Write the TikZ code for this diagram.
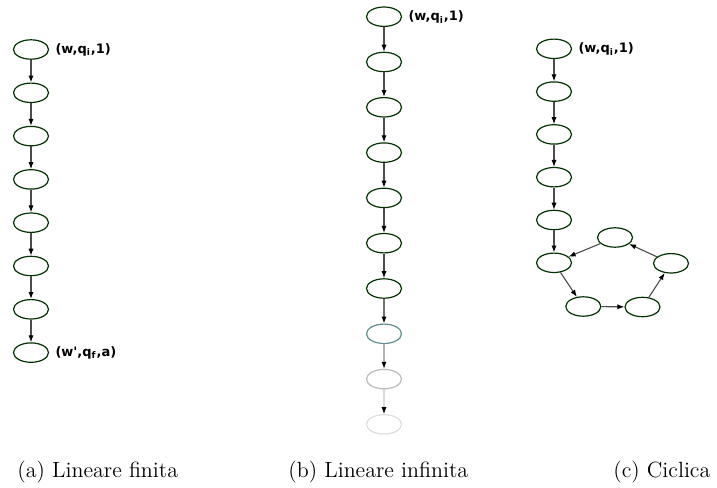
\documentclass[tikz,border=0pt]{standalone}
\usepackage{fontspec}
\newfontfamily\lblfont{DejaVu Sans}
\usetikzlibrary{positioning,arrows.meta,shapes.geometric}

\definecolor{nodegreen}{HTML}{003300}
\definecolor{fadeone}{HTML}{5F8F8F}
\definecolor{fadetwo}{HTML}{BBBBBB}
\definecolor{fadethree}{HTML}{DDDDDD}

\tikzset{
  state/.style={ellipse, draw=nodegreen, line width=0.6pt,
    minimum width=17.5pt, minimum height=9.7pt, inner sep=0pt},
  lbl/.style={font=\lblfont\bfseries\fontsize{6.5}{7}\selectfont, inner sep=0pt},
  edge/.style={draw=black!70, line width=0.55pt,
    -{Latex[length=3.5pt,width=2.6pt,black]}},
  capt/.style={font=\fontsize{11}{13}\selectfont, inner sep=0pt, anchor=base west},
}

\begin{document}
\begin{tikzpicture}[x=0.5pt, y=-0.5pt]
  \useasboundingbox (0,0) rectangle (717,487);
  % (a) finite chain
  \foreach \i in {1,...,8}
    \node[state] (a\i) at (31,{49.5+43.3*(\i-1)}) {};
  \foreach \i [evaluate=\i as \j using int(\i+1)] in {1,...,7}
    \draw[edge] (a\i) -- (a\j);
  \node[lbl, right=3pt of a1] (la1) {(w,q\textsubscript{i},1)};
  \node[lbl, right=3pt of a8] (la8) {(w',q\textsubscript{f},a)};
  % (b) infinite chain, fading out
  \foreach \i in {1,...,7}
    \node[state] (b\i) at (384,{16.7+45.3*(\i-1)}) {};
  \node[state, draw=fadeone] (b8) at (384,{16.7+45.3*7}) {};
  \node[state, draw=fadetwo] (b9) at (384,{16.7+45.3*8}) {};
  \node[state, draw=fadethree] (b10) at (384,{16.7+45.3*9}) {};
  \foreach \i [evaluate=\i as \j using int(\i+1)] in {1,...,6}
    \draw[edge] (b\i) -- (b\j);
  \draw[edge, draw=black!55] (b7) -- (b8);
  \draw[edge, draw=black!30] (b8) -- (b9);
  \draw[edge, draw=black!15] (b9) -- (b10);
  \node[lbl, right=3pt of b1] (lb1) {(w,q\textsubscript{i},1)};
  % (c) chain ending in a cycle
  \foreach \i in {1,...,6}
    \node[state] (c\i) at (554,{48.8+42.8*(\i-1)}) {};
  \node[state] (c7) at (583.3,306.5) {};
  \node[state] (c8) at (642.5,307) {};
  \node[state] (c9) at (671,263.3) {};
  \node[state] (c10) at (615,237.5) {};
  \foreach \i [evaluate=\i as \j using int(\i+1)] in {1,...,9}
    \draw[edge] (c\i) -- (c\j);
  \draw[edge] (c10) -- (c6);
  \node[lbl, right=3pt of c1] (lc1) {(w,q\textsubscript{i},1)};
  % captions
  \node[capt] (capa) at (17,477) {(a) Lineare finita};
  \node[capt] (capb) at (288,477) {(b) Lineare infinita};
  \node[capt] (capc) at (613,477) {(c) Ciclica};
\end{tikzpicture}
\end{document}
